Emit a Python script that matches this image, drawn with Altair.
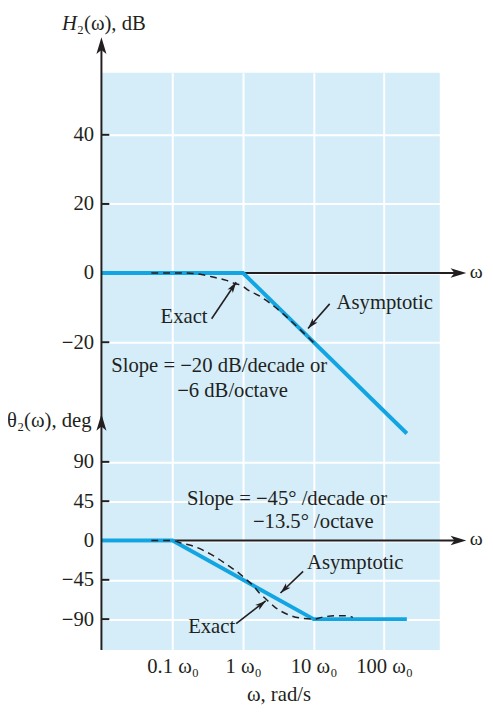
import altair as alt
import pandas as pd

# ---------------- data (ω in units of ω0) ----------------
mag_asym_w = [0.01, 1, 210]
mag_asym_db = [0, 0, -46.4]

mag_exact_w = [0.05, 0.15, 0.2, 0.27, 0.4, 0.58, 0.76, 1.0, 1.1, 1.7, 2.3, 3.6, 5.5, 8.3, 11]
mag_exact_db = [0, 0, -0.1, -0.5, -1.3, -2.1, -3.0, -3.8, -4.5, -6.6, -8.4, -11.6, -15.0, -18.5, -20.9]

ph_asym_w = [0.01, 0.1, 10, 210]
ph_asym_deg = [0, 0, -90, -90]

ph_exact_w = [0.05, 0.1, 0.13, 0.19, 0.28, 0.42, 0.64, 0.88, 1.1, 1.4, 1.7, 2.1, 2.9, 4.4, 6.8, 10, 13, 20, 28, 36]
ph_exact_deg = [0, 0, -2.7, -6, -11.7, -19.6, -29.7, -37.6, -44.3, -52, -60, -67, -77, -85, -89, -90, -88, -86, -86, -88]

x_ticks = [0.1, 1, 10, 100]
mag_ticks = [40, 20, 0, -20]
ph_ticks = [90, 45, 0, -45, -90]

# annotations (data coordinates of each panel)
mag_arrow_x1 = [0.358, 16.9]
mag_arrow_y1 = [-13.2, -8.9]
mag_arrow_x2 = [0.798, 8.33]
mag_arrow_y2 = [-2.65, -16.0]
mag_arrow_ang = [34, 221]

ph_arrow_x1 = [0.798, 7.10]
ph_arrow_y1 = [-95.0, -35.3]
ph_arrow_x2 = [2.094, 3.39]
ph_arrow_y2 = [-69.1, -60.1]
ph_arrow_ang = [52, 226]

mag_text = ["Exact", "Asymptotic", "Slope = \u221220 dB/decade or", "\u22126 dB/octave"]
mag_text_w = [0.1455, 21.2, 0.0135, 0.1162]
mag_text_v = [-12.6, -8.65, -27.0, -34.2]
mag_text_align = ["center", "left", "left", "left"]

ph_text = ["Exact", "Asymptotic", "Slope = \u221245\u00b0 /decade or", "\u221213.5\u00b0 /octave"]
ph_text_w = [0.358, 8.07, 0.160, 1.379]
ph_text_v = [-99.5, -26.3, 47.2, 20.9]
ph_text_align = ["center", "left", "left", "left"]

# ---------------- styling ----------------
FONT = "Liberation Serif"
INK = "#231f20"
BLUE = "#13a5e1"
BG = "#d4edf9"
W, H = 344, 587
FS = 21
UP = "M0,0 L0.6,2 L0,1.5 L-0.6,2 Z"

xscale = alt.Scale(type="log", domain=[0.0098, 615], nice=False)
x_axis = alt.Axis(values=x_ticks, labelExpr="format(datum.value, '~g') + ' \u03c9\u2080'",
                  title="\u03c9, rad/s", domain=False, ticks=False, tickSize=0,
                  labelPadding=17, labelBaseline="middle", labelFont=FONT, labelFontSize=FS,
                  labelColor=INK, grid=True, gridColor="white", gridWidth=2,
                  titleFont=FONT, titleFontSize=FS, titleFontWeight="normal", titleColor=INK,
                  titleX=180, titleY=45, titleAlign="center", titleBaseline="middle",
                  labelOverlap=False, labelFlush=False)

def yaxis(vals):
    return alt.Axis(values=vals, labelExpr="replace(datum.label, '-', '\u2212')", title=None,
                    domain=False, ticks=False, tickSize=0, labelPadding=8, labelFont=FONT,
                    labelFontSize=FS, labelColor=INK, grid=True, gridColor="white", gridWidth=2,
                    orient="left", labelOverlap=False)

top_scale = alt.Scale(domain=[-109.05, 57.95], nice=False, zero=False)
bot_scale = alt.Scale(domain=[-125.4, 535.3], nice=False, zero=False)
top_axis = yaxis(mag_ticks)
bot_axis = yaxis(ph_ticks)

def X(f):
    return alt.X(f"{f}:Q", scale=xscale, axis=x_axis)

df0 = pd.DataFrame({"v": [0]})


def panel(scale, axis, asym_w, asym_v, ex_w, ex_v, tick_vals, ax1, ay1, ax2, ay2, aang,
          txt, txw, txv, txa):
    def Y(f):
        return alt.Y(f"{f}:Q", scale=scale, axis=axis)

    zero_line = alt.Chart(df0).mark_rule(stroke=INK, strokeWidth=2).encode(
        x=alt.value(0), x2=alt.value(362), y=Y("v"))
    zero_arrow = alt.Chart(df0).mark_point(shape=UP, filled=True, fill=INK, strokeWidth=0,
                                           size=256, opacity=1, angle=90).encode(
        x=alt.value(371), y=Y("v"))
    omega = alt.Chart(df0).mark_text(font=FONT, fontSize=20, color=INK, align="center",
                                     baseline="middle", dy=-1, text="\u03c9").encode(
        x=alt.value(381), y=Y("v"))
    ticks = alt.Chart(pd.DataFrame({"v": [t for t in tick_vals if t != 0]})).mark_rule(
        stroke=INK, strokeWidth=2).encode(x=alt.value(0), x2=alt.value(8), y=Y("v"))
    asym = alt.Chart(pd.DataFrame({"w": asym_w, "v": asym_v})).mark_line(
        color=BLUE, strokeWidth=4, strokeCap="butt").encode(x=X("w"), y=Y("v"))
    exact = alt.Chart(pd.DataFrame({"w": ex_w, "v": ex_v})).mark_line(
        color=INK, strokeWidth=1.5, strokeDash=[7, 5], interpolate="monotone").encode(
        x=X("w"), y=Y("v"))
    adf = pd.DataFrame({"x1": ax1, "y1": ay1, "x2": ax2, "y2": ay2, "ang": aang})
    arules = alt.Chart(adf).mark_rule(stroke=INK, strokeWidth=1.6).encode(
        x=X("x1"), x2="x2:Q", y=Y("y1"), y2="y2:Q")
    aheads = alt.Chart(adf).mark_point(shape=UP, filled=True, fill=INK, strokeWidth=0,
                                       size=120, opacity=1).encode(
        x=X("x2"), y=Y("y2"), angle=alt.Angle("ang:Q", scale=None))
    tdf = pd.DataFrame({"t": txt, "w": txw, "v": txv, "a": txa})
    texts = []
    for al in ["left", "center"]:
        texts.append(alt.Chart(tdf).transform_filter(f"datum.a == '{al}'").mark_text(
            font=FONT, fontSize=FS, color=INK, align=al, baseline="middle").encode(
            x=X("w"), y=Y("v"), text="t:N"))
    return alt.layer(zero_line, ticks, asym, exact, arules, aheads, zero_arrow, omega, *texts)


top = panel(top_scale, top_axis, mag_asym_w, mag_asym_db, mag_exact_w, mag_exact_db, mag_ticks,
            mag_arrow_x1, mag_arrow_y1, mag_arrow_x2, mag_arrow_y2, mag_arrow_ang,
            mag_text, mag_text_w, mag_text_v, mag_text_align)
bot = panel(bot_scale, bot_axis, ph_asym_w, ph_asym_deg, ph_exact_w, ph_exact_deg, ph_ticks,
            ph_arrow_x1, ph_arrow_y1, ph_arrow_x2, ph_arrow_y2, ph_arrow_ang,
            ph_text, ph_text_w, ph_text_v, ph_text_align)

# decorations: vertical axis with two arrowheads, axis titles
vline = alt.Chart(df0).mark_rule(stroke=INK, strokeWidth=2).encode(
    x=alt.value(0), y=alt.value(-30), y2=alt.value(H))
varrows = alt.Chart(pd.DataFrame({"py": [-36, 347]})).mark_point(
    shape=UP, filled=True, fill=INK, strokeWidth=0, size=289, opacity=1).encode(
    x=alt.value(0), y=alt.Y("py:Q", scale=None))
h_lab = alt.Chart(df0).mark_text(font=FONT, fontSize=FS, color=INK, align="left",
                                 baseline="alphabetic", fontStyle="italic", text="H").encode(
    x=alt.value(-40), y=alt.value(-43))
h_rest = alt.Chart(df0).mark_text(font=FONT, fontSize=FS, color=INK, align="left",
                                  baseline="alphabetic", text="\u2082(\u03c9), dB").encode(
    x=alt.value(-25), y=alt.value(-43))
t_lab = alt.Chart(df0).mark_text(font=FONT, fontSize=FS, color=INK, align="left",
                                 baseline="alphabetic", text="\u03b8\u2082(\u03c9), deg").encode(
    x=alt.value(-96), y=alt.value(360))
deco = alt.layer(vline, varrows, h_lab, h_rest, t_lab)

chart = alt.layer(top, bot, deco).resolve_scale(y="independent").properties(
    width=W, height=H,
    autosize=alt.AutoSizeParams(type="none"),
    padding={"left": 95, "top": 60, "right": 46, "bottom": 50},
).configure_view(fill=BG, stroke=None)

chart.save("out.html", embed_options={"renderer": "svg", "actions": False})
